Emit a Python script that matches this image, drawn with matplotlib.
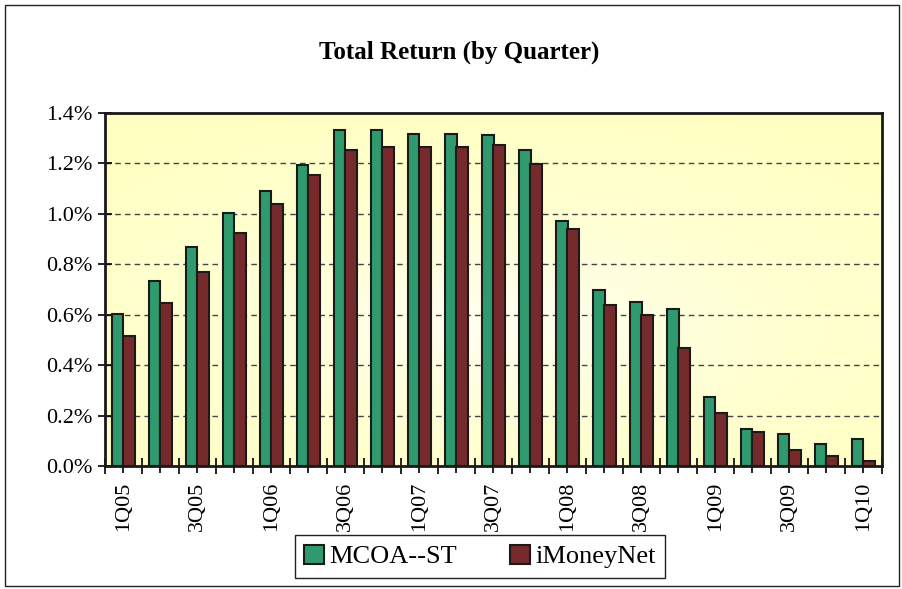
import numpy as np
import matplotlib
matplotlib.use("Agg")
import matplotlib.pyplot as plt
from matplotlib.patches import Rectangle
from matplotlib.colors import LinearSegmentedColormap
from matplotlib.ticker import FuncFormatter

plt.rcParams['font.family'] = ['Liberation Serif', 'DejaVu Serif']

quarters = ['1Q05', '2Q05', '3Q05', '4Q05', '1Q06', '2Q06', '3Q06', '4Q06',
            '1Q07', '2Q07', '3Q07', '4Q07', '1Q08', '2Q08', '3Q08', '4Q08',
            '1Q09', '2Q09', '3Q09', '4Q09', '1Q10']
mcoa = [0.604, 0.734, 0.869, 1.005, 1.091, 1.193, 1.334, 1.331, 1.315, 1.317,
        1.312, 1.252, 0.972, 0.697, 0.652, 0.624, 0.274, 0.146, 0.125, 0.088, 0.106]
imoney = [0.514, 0.645, 0.770, 0.926, 1.039, 1.153, 1.254, 1.267, 1.267, 1.265,
          1.275, 1.197, 0.941, 0.640, 0.597, 0.468, 0.210, 0.134, 0.065, 0.038, 0.020]
series_names = ['MCOA--ST', 'iMoneyNet']
yticks = [0.0, 0.2, 0.4, 0.6, 0.8, 1.0, 1.2, 1.4]

green = '#2F9A6E'
maroon = '#762A2B'

W, H = 903, 589
fig = plt.figure(figsize=(W / 100, H / 100), dpi=100)
fig.patch.set_facecolor('white')

# outer frame
fig.add_artist(Rectangle((5 / W, 3 / H), 894 / W, 581 / H, transform=fig.transFigure,
                         fill=False, edgecolor='#222222', linewidth=1.0))

ax = fig.add_axes([105 / W, 1 - 466 / H, (882 - 105) / W, (466 - 113) / H])

# background gradient
yy, xx = np.mgrid[-1:1:200j, -1:1:300j]
r = np.sqrt((xx * 0.9) ** 2 + ((yy + 0.2) * 1.0) ** 2)
cmap = LinearSegmentedColormap.from_list('bg', ['#FFFFF2', '#FFFFD2', '#FFFFC2'])
ax.imshow(r, cmap=cmap, extent=[-0.5, 20.5, 0, 1.4], aspect='auto', zorder=0,
          vmin=0.0, vmax=1.3, origin='lower')

x = np.arange(len(quarters))
bw = 0.31
ax.bar(x - bw / 2, mcoa, bw, color=green, edgecolor='#1a1a1a', linewidth=1.5,
       label=series_names[0], zorder=3)
ax.bar(x + bw / 2, imoney, bw, color=maroon, edgecolor='#1a1a1a', linewidth=1.5,
       label=series_names[1], zorder=3)

ax.set_xlim(-0.5, len(quarters) - 0.5)
ax.set_ylim(0, 1.4)
ax.set_yticks(yticks)
ax.yaxis.set_major_formatter(FuncFormatter(lambda v, p: f'{v:.1f}%'))
for v in yticks[1:-1]:
    ax.axhline(v, color='#444444', linestyle=(0, (4, 3)), linewidth=1.0, zorder=1)

ax.set_xticks(x)
ax.set_xticklabels([q if i % 2 == 0 else '' for i, q in enumerate(quarters)],
                   rotation=90, fontsize=16)
ax.set_xticks(np.arange(-0.5, len(quarters), 1.0), minor=True)
ax.tick_params(axis='x', which='major', direction='out', length=5, width=1.2, pad=6)
ax.tick_params(axis='x', which='minor', direction='inout', length=12, width=1.2)
ax.tick_params(axis='y', which='major', direction='inout', length=10, width=1.2,
               labelsize=16, pad=4)

for s in ax.spines.values():
    s.set_linewidth(2.0)
    s.set_color('#1a1a1a')

fig.text(459 / W, 1 - 52 / H, 'Total Return (by Quarter)', ha='center', va='center',
         fontsize=18, fontweight='bold')

leg = fig.legend(loc='center', bbox_to_anchor=(480 / W, 1 - 556.5 / H), ncol=2,
                 fontsize=19, frameon=True, fancybox=False, handlelength=0.75,
                 handleheight=0.75, handletextpad=0.2, columnspacing=2.0,
                 borderpad=0.35, borderaxespad=0, framealpha=1)
leg.get_frame().set_edgecolor('#222222')
leg.get_frame().set_linewidth(1.0)

fig.savefig('out.png', dpi=100)
